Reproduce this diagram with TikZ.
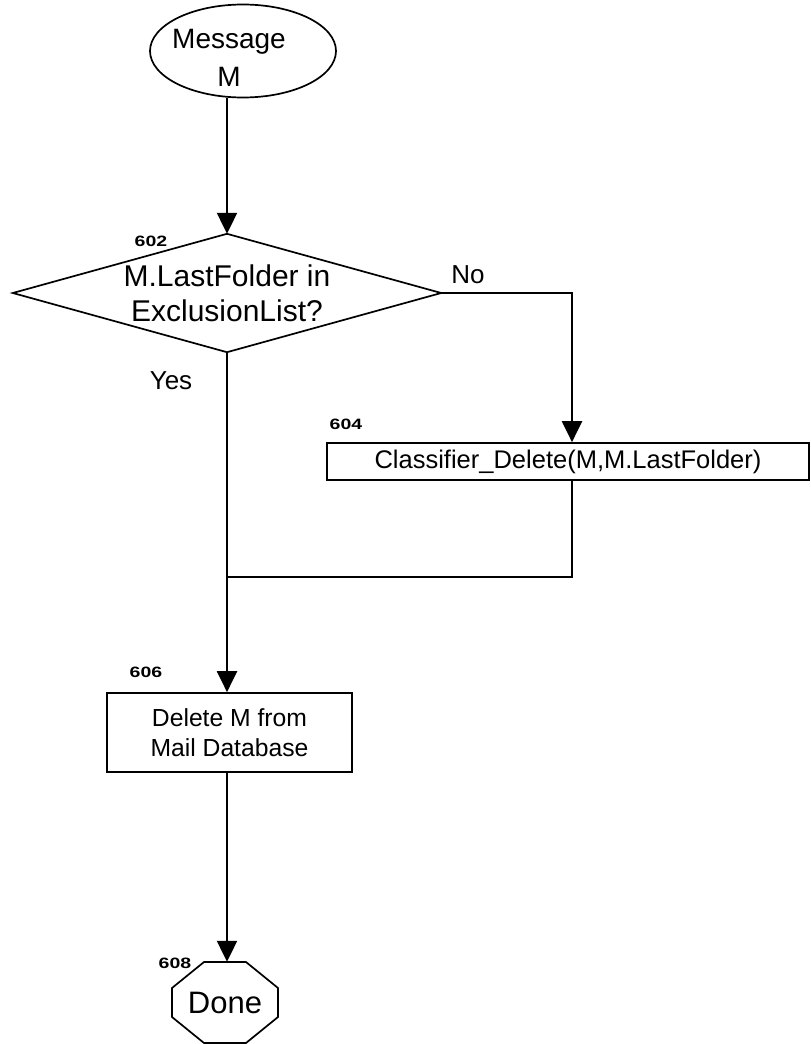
\documentclass[tikz,border=0pt]{standalone}
\usepackage{fontspec}
\usepackage{graphicx}
\setmainfont{Liberation Sans}
\usetikzlibrary{arrows.meta,shapes.geometric,calc}
\newcommand{\wide}[1]{\scalebox{1.3}[1]{#1}}
\begin{document}
\begin{tikzpicture}[x=1pt,y=-1pt,
  conn/.style={line width=2.2pt},
  arr/.style={conn,-{Triangle[length=21pt,width=20pt]}},
  shapeline/.style={line width=1.7pt},
  lbl/.style={font=\fontsize{15}{15}\selectfont\bfseries, inner sep=0pt},
  yn/.style={font=\fontsize{26}{26}\selectfont, inner sep=0pt},
  box/.style={draw, shapeline, inner sep=0pt, align=center}
]
\useasboundingbox (0,0) rectangle (811,1044);

% start ellipse
\node[draw, shapeline, ellipse, minimum width=186pt, minimum height=93pt, inner sep=0pt] (msg) at (243,51) {};
\node[align=center, inner sep=0pt, font=\fontsize{28}{38}\selectfont] (msgtext) at (229,58) {Message\\M};

% decision
\node[minimum width=428pt, minimum height=118pt, inner sep=0pt, align=center,
      font=\fontsize{30}{35}\selectfont] (dia) at (227,293) {M.LastFolder in\\ExclusionList?};
\draw[shapeline, line join=miter] (dia.north) -- (dia.east) -- (dia.south) -- (dia.west) -- cycle;
\node[lbl] (l602) at (151,241) {\wide{602}};

% classifier box
\node[box, minimum width=482pt, minimum height=37pt, font=\fontsize{25.5}{25.5}\selectfont] (c604) at (568,461.5) {Classifier\_Delete(M,M.LastFolder)};
\node[lbl] (l604) at (346,424) {\wide{604}};

% delete box
\node[box, minimum width=245pt, minimum height=79pt, font=\fontsize{24.7}{30}\selectfont] (b606) at (229.5,732.5) {Delete M from\\Mail Database};
\node[lbl] (l606) at (146,672) {\wide{606}};

% done octagon
\node[minimum width=106pt, minimum height=81pt, inner sep=0pt, font=\fontsize{31}{31}\selectfont] (done) at (225,1002.5) {Done};
\draw[shapeline] ($(done.center)+(-21,-40.5)$) -- ($(done.center)+(21,-40.5)$) -- ($(done.center)+(53,-14.5)$) -- ($(done.center)+(53,14.5)$) -- ($(done.center)+(21,40.5)$) -- ($(done.center)+(-21,40.5)$) -- ($(done.center)+(-53,14.5)$) -- ($(done.center)+(-53,-14.5)$) -- cycle;
\node[lbl] (l608) at (175,963) {\wide{608}};

% connectors
\coordinate (nx) at (572,0);
\coordinate (join) at (227,577);
\draw[arr] (msg.south -| dia.north) -- (dia.north);
\draw[arr] (dia.east) -| (c604.north -| nx);
\draw[conn] (c604.south -| nx) |- (join);
\draw[arr] (dia.south) -- (dia.south |- b606.north);
\draw[arr] (b606.south -| dia.south) -- (dia.south |- done.north);

\node[yn] (no) at (468,275) {No};
\node[yn] (yes) at (171,381) {Yes};
\end{tikzpicture}
\end{document}
